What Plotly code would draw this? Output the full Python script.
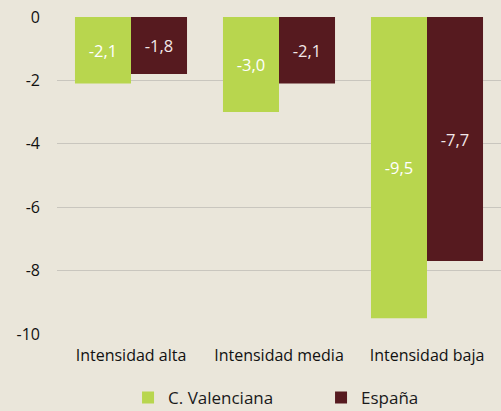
import plotly.graph_objects as go

categories = ["Intensidad alta", "Intensidad media", "Intensidad baja"]
valenciana = [-2.1, -3.0, -9.5]
espana = [-1.8, -2.1, -7.7]
y_ticks = [0, -2, -4, -6, -8, -10]

def fmt(v):
    return f"{v:.1f}".replace(".", ",")

bg = "#EAE6DA"
green = "#B8D64E"
maroon = "#561A1F"
font = "Open Sans"

fig = go.Figure()
fig.add_bar(x=categories, y=valenciana, name="C. Valenciana", marker_color=green,
            marker_line_width=0,
            text=[fmt(v) for v in valenciana], textposition="inside",
            insidetextanchor="middle", textfont=dict(color="white", size=16.5, family=font),
            textangle=0)
fig.add_bar(x=categories, y=espana, name="España", marker_color=maroon,
            marker_line_width=0,
            text=[fmt(v) for v in espana], textposition="inside",
            insidetextanchor="middle", textfont=dict(color="#F2E8E8", size=16.5, family=font),
            textangle=0)

fig.update_layout(
    width=501, height=411,
    paper_bgcolor=bg, plot_bgcolor=bg,
    margin=dict(l=57, r=0, t=17, b=77, autoexpand=False),
    barmode="group", bargap=0.243, bargroupgap=0,
    font=dict(family=font, color="#1a1a1a"),
    showlegend=True,
    legend=dict(orientation="h", x=0.16, xanchor="left", yref="container", y=0.032,
                yanchor="middle", font=dict(size=17, family=font), itemwidth=30,
                entrywidth=148, entrywidthmode="pixels", bgcolor="rgba(0,0,0,0)"),
)
fig.update_yaxes(range=[-10, 0], tickvals=y_ticks, ticktext=[str(t) for t in y_ticks],
                 showgrid=True, gridcolor="#C9C6BE", gridwidth=1, zeroline=False,
                 tickfont=dict(size=16, family=font, color="#111"), ticks="", ticklabelstandoff=16)
fig.update_xaxes(showgrid=False, tickfont=dict(size=16, family=font, color="#111"),
                 ticks="", showline=False, ticklabelstandoff=10)

fig.write_html("out.html", config={"displayModeBar": False},
               post_script="document.body.style.margin='0';document.body.style.overflow='hidden';")
